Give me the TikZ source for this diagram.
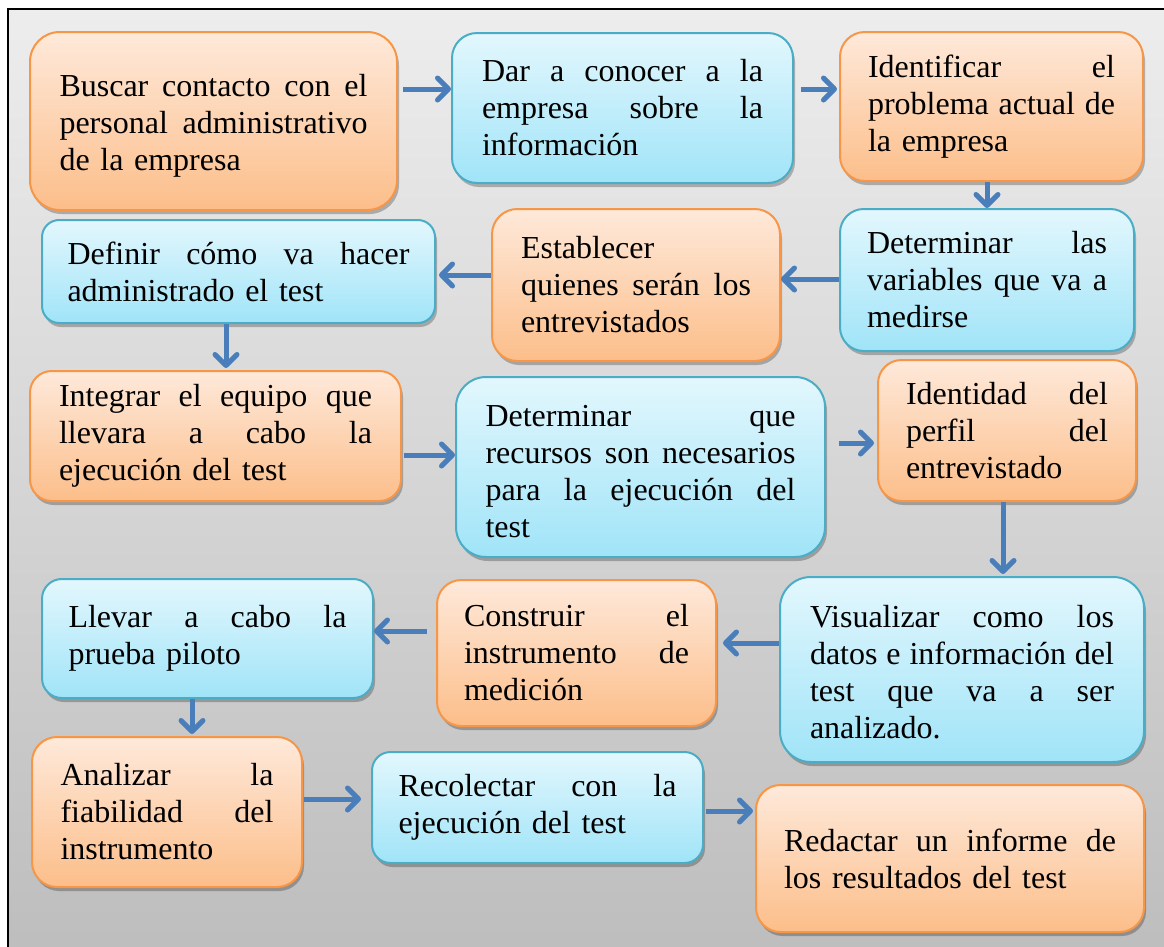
\documentclass[tikz,border=0pt]{standalone}
\usepackage{fontspec}
\setmainfont{Liberation Serif}
\newfontfamily\tnr{Liberation Serif}
\usetikzlibrary{arrows.meta,shadows}
\definecolor{obord}{HTML}{F79646}
\definecolor{otop}{HTML}{FEE9DA}
\definecolor{obot}{HTML}{FCBE8A}
\definecolor{bbord}{HTML}{4BACC6}
\definecolor{btop}{HTML}{E3F7FD}
\definecolor{bbot}{HTML}{A0E4F8}
\definecolor{arrc}{HTML}{4A7EBB}
\definecolor{bgtop}{HTML}{EDEDED}
\definecolor{bgbot}{HTML}{BDBDBD}
\newcommand\jl[2]{\makebox[#1pt][s]{\spaceskip=0.25em plus 1fil\relax #2}}
\setlength\parindent{0pt}
\begin{document}
\begin{tikzpicture}[x=1pt,y=1pt,
  box/.style={rectangle, line width=2pt, font={\tnr\fontsize{32}{37}\selectfont}, align=left, inner ysep=0pt,
    drop shadow={shadow xshift=2pt, shadow yshift=-4pt, opacity=0.25, fill=black}},
  obox/.style={box, draw=obord, top color=otop, bottom color=obot},
  bbox/.style={box, draw=bbord, top color=btop, bottom color=bbot},
  arr/.style={draw=arrc, line width=5pt, -{Straight Barb[length=11pt,width=22pt,round]}}
]
\useasboundingbox (0,0) rectangle (1164,-946);
\draw[line width=2pt, top color=bgtop, bottom color=bgbot] (8,-9) rectangle (1180,-960);

\node[obox, rounded corners=29.7pt, minimum height=178pt, text width=308pt, inner xsep=29.5pt] (b1) at (213.5,-121)
  {\rule{0pt}{32pt}\jl{308}{Buscar contacto con el}\\\jl{308}{personal administrativo}\\de la empresa};
\node[bbox, rounded corners=25pt, minimum height=150pt, text width=281pt, inner xsep=30pt] (b2) at (622.5,-108)
  {\jl{281}{Dar a conocer a la}\\\jl{281}{empresa sobre la}\\información};
\node[obox, rounded corners=24.8pt, minimum height=149pt, text width=247pt, inner xsep=28pt] (b3) at (991.5,-106.5)
  {\jl{247}{Identificar el}\\\jl{247}{problema actual de}\\la empresa};
\node[bbox, rounded corners=23.7pt, minimum height=142pt, text width=240pt, inner xsep=27pt] (b4) at (987,-280)
  {\jl{240}{Determinar las}\\\jl{240}{variables que va a}\\medirse};
\node[obox, rounded corners=25.3pt, minimum height=152pt, text width=230pt, inner xsep=29pt] (b5) at (636,-285)
  {Establecer\\\jl{230}{quienes serán los}\\entrevistados};
\node[bbox, rounded corners=17.2pt, minimum height=103pt, text width=342pt, inner xsep=25.5pt] (b6) at (238.5,-271.5)
  {\jl{342}{Definir cómo va hacer}\\administrado el test};
\node[obox, rounded corners=21.7pt, minimum height=130pt, text width=313pt, inner xsep=29pt] (b7) at (215.5,-436)
  {\jl{313}{Integrar el equipo que}\\\jl{313}{llevara a cabo la}\\ejecución del test};
\node[bbox, rounded corners=30pt, minimum height=180pt, text width=310pt, inner xsep=29.5pt] (b8) at (640.5,-467)
  {\rule{0pt}{31pt}\jl{310}{Determinar que}\\\jl{310}{recursos son necesarios}\\\jl{310}{para la ejecución del}\\test};
\node[obox, rounded corners=23.5pt, minimum height=141pt, text width=202pt, inner xsep=28pt] (b9) at (1007,-430.5)
  {\jl{202}{Identidad del}\\\jl{202}{perfil del}\\entrevistado};
\node[bbox, rounded corners=30.8pt, minimum height=185pt, text width=304pt, inner xsep=30pt] (b10) at (962,-669.5)
  {\rule{0pt}{28pt}\jl{304}{Visualizar como los}\\\jl{304}{datos e información del}\\\jl{304}{test que va a ser}\\analizado.};
\node[obox, rounded corners=24.3pt, minimum height=146pt, text width=225pt, inner xsep=27pt] (b11) at (576.5,-653)
  {\jl{225}{Construir el}\\\jl{225}{instrumento de}\\medición};
\node[bbox, rounded corners=19.8pt, minimum height=119pt, text width=278pt, inner xsep=26.5pt] (b12) at (207.5,-638.5)
  {\jl{278}{Llevar a cabo la}\\prueba piloto};
\node[obox, rounded corners=25pt, minimum height=150pt, text width=213pt, inner xsep=28.5pt] (b13) at (167,-812)
  {\jl{213}{Analizar la}\\\jl{213}{fiabilidad del}\\instrumento};
\node[bbox, rounded corners=18.5pt, minimum height=111pt, text width=278pt, inner xsep=26.5pt] (b14) at (537.5,-807.5)
  {\jl{278}{Recolectar con la}\\ejecución del test};
\node[obox, rounded corners=24.5pt, minimum height=147pt, text width=332pt, inner xsep=28pt] (b15) at (950,-858.5)
  {\jl{332}{Redactar un informe de}\\los resultados del test};

\draw[arr, shorten <=5pt] (b1.east |- 0,-89) -- (b2.west |- 0,-89);
\draw[arr, shorten <=7pt, shorten >=2pt] (b2.east |- 0,-89) -- (b3.west |- 0,-89);
\draw[arr] (b3.south -| 987,0) -- (b4.north -| 987,0);
\draw[arr] (b4.west |- 0,-279) -- (b5.east |- 0,-279);
\draw[arr, shorten >=3pt] (b5.west |- 0,-275) -- (b6.east |- 0,-275);
\draw[arr, shorten >=2pt] (b6.south -| 226,0) -- (b7.north -| 226,0);
\draw[arr, shorten <=2pt] (b7.east |- 0,-455) -- (b8.west |- 0,-455);
\draw[arr, shorten <=13pt, shorten >=3pt] (b8.east |- 0,-443) -- (b9.west |- 0,-443);
\draw[arr, shorten >=2pt] (b9.south -| 1003,0) -- (b10.north -| 1003,0);
\draw[arr, shorten >=6pt] (b10.west |- 0,-643) -- (b11.east |- 0,-643);
\draw[arr, shorten <=9pt] (b11.west |- 0,-631) -- (b12.east |- 0,-631);
\draw[arr, shorten >=2pt] (b12.south -| 192,0) -- (b13.north -| 192,0);
\draw[arr, shorten <=1pt, shorten >=10pt] (b13.east |- 0,-799) -- (b14.west |- 0,-799);
\draw[arr, shorten <=2pt, shorten >=2pt] (b14.east |- 0,-811) -- (b15.west |- 0,-811);
\end{tikzpicture}
\end{document}
